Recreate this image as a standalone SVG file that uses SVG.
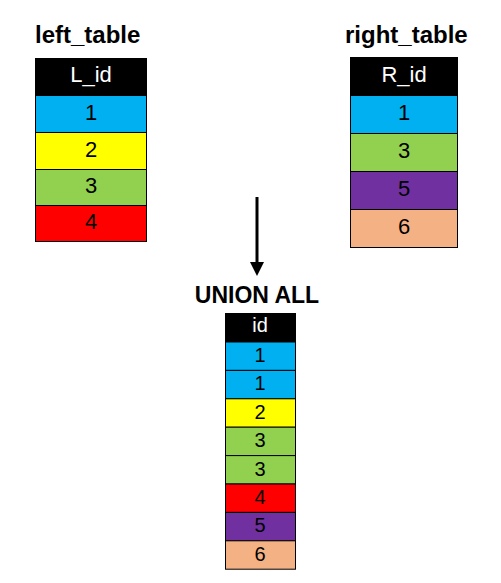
<svg xmlns="http://www.w3.org/2000/svg" width="501" height="583" viewBox="0 0 501 583">
<style>
.t{font-family:"Liberation Sans",Arial,sans-serif;font-weight:bold;font-size:24px;fill:#000}
.c{stroke:#000;stroke-width:1}
.v{font-family:"Liberation Sans",Arial,sans-serif;font-size:22px;text-anchor:middle;fill:#000}
.h{font-family:"Liberation Sans",Arial,sans-serif;font-size:22px;text-anchor:middle;fill:#fff}
.m .v,.m .h{font-size:20px}
.b{fill:#00B0F0}.y{fill:#FFFF00}.g{fill:#92D050}.r{fill:#FF0000}.p{fill:#7030A0}.o{fill:#F4B183}.k{fill:#000}
</style>
<rect width="501" height="583" fill="#fff"/>
<g id="left_table">
<text class="t" x="35" y="43">left_table</text>
<rect class="c k" x="35.500" y="58.500" width="111" height="37"/>
<text class="h" x="91" y="82">L_id</text>
<rect class="c b" x="35.500" y="95.500" width="111" height="37"/>
<text class="v" x="91" y="120">1</text>
<rect class="c y" x="35.500" y="132.500" width="111" height="37"/>
<text class="v" x="91" y="157">2</text>
<rect class="c g" x="35.500" y="169.500" width="111" height="36"/>
<text class="v" x="91" y="193">3</text>
<rect class="c r" x="35.500" y="205.500" width="111" height="36"/>
<text class="v" x="91" y="229">4</text>
</g>
<g id="right_table">
<text class="t" x="345" y="43">right_table</text>
<rect class="c k" x="350.500" y="57.500" width="107" height="38"/>
<text class="h" x="404" y="82">R_id</text>
<rect class="c b" x="350.500" y="95.500" width="107" height="38"/>
<text class="v" x="404" y="120">1</text>
<rect class="c g" x="350.500" y="133.500" width="107" height="38"/>
<text class="v" x="404" y="158">3</text>
<rect class="c p" x="350.500" y="171.500" width="107" height="38"/>
<text class="v" x="404" y="196">5</text>
<rect class="c o" x="350.500" y="209.500" width="107" height="38"/>
<text class="v" x="404" y="234">6</text>
</g>
<g id="connectors">
<line x1="257" y1="197" x2="257" y2="263" stroke="#000" stroke-width="3"/>
<polygon points="250,262 264,262 257,276" fill="#000"/>
</g>
<g id="union_all" class="m">
<text class="t" x="257" y="303" text-anchor="middle" style="font-size:23px">UNION ALL</text>
<rect class="c k" x="225.500" y="313.500" width="70" height="28.500"/>
<text class="h" x="260" y="332">id</text>
<rect class="c b" x="225.500" y="342" width="70" height="28.400"/>
<text class="v" x="260" y="362">1</text>
<rect class="c b" x="225.500" y="370.400" width="70" height="28.400"/>
<text class="v" x="260" y="390">1</text>
<rect class="c y" x="225.500" y="398.800" width="70" height="28.400"/>
<text class="v" x="260" y="419">2</text>
<rect class="c g" x="225.500" y="427.200" width="70" height="28.400"/>
<text class="v" x="260" y="447">3</text>
<rect class="c g" x="225.500" y="455.600" width="70" height="28.400"/>
<text class="v" x="260" y="476">3</text>
<rect class="c r" x="225.500" y="484" width="70" height="28.400"/>
<text class="v" x="260" y="504">4</text>
<rect class="c p" x="225.500" y="512.400" width="70" height="28.400"/>
<text class="v" x="260" y="532">5</text>
<rect class="c o" x="225.500" y="540.800" width="70" height="28.400"/>
<text class="v" x="260" y="561">6</text>
</g>
</svg>
